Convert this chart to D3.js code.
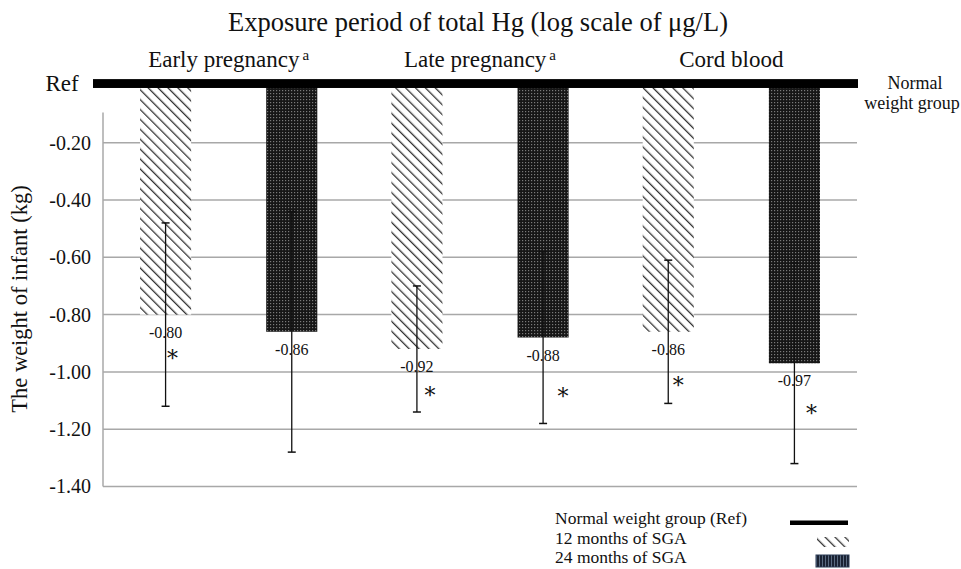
<!DOCTYPE html>
<html>
<head>
<meta charset="utf-8">
<script src="https://cdn.jsdelivr.net/npm/d3@7"></script>
<style>
  body { margin: 0; background: #fff; }
  svg text { font-family: "Liberation Serif", "Times New Roman", serif; fill: #111; }
</style>
</head>
<body>
<svg id="svg" width="961" height="569"></svg>
<script>
// data
var periods = ["Early pregnancy", "Late pregnancy", "Cord blood"]
var periodSup = ["a", "a", ""]
var series = ["12 months of SGA", "24 months of SGA"]
var values12 = [-0.80, -0.92, -0.86]
var values24 = [-0.86, -0.88, -0.97]
var err12 = [0.32, 0.22, 0.25]
var err24 = [0.42, 0.30, 0.35]
var signif12 = [true, true, true]
var signif24 = [false, true, true]
var yTicks = [-0.20, -0.40, -0.60, -0.80, -1.00, -1.20, -1.40]

// asterisk offsets (px from bar centre / label) - layout only
var starOffset = [[7, 21], [4, 0], [13, 24], [20, 36], [10, 31], [17, 28]]

var SERIF = "'Liberation Serif', 'Times New Roman', serif"
var svg = d3.select("#svg")

var x0 = d3.scaleBand()
    .domain(periods)
    .range([103, 857])
    .padding(0)

var x1 = d3.scaleBand()
    .domain(series)
    .range([0, x0.bandwidth()])
    .paddingInner(0.595)
    .paddingOuter(0.2935)

var y = d3.scaleLinear()
    .domain([0, -1.40])
    .range([85.4, 486.5])

function fmt(v) {
    // plain hyphen, as in the figure
    return (v < 0 ? "-" : "") + d3.format(".2f")(Math.abs(v))
}

// patterns
var defs = svg.append("defs")
var hatch = defs.append("pattern")
    .attr("id", "hatch")
    .attr("patternUnits", "userSpaceOnUse")
    .attr("width", 7).attr("height", 7)
    .attr("patternTransform", "rotate(-45)")
hatch.append("rect").attr("width", 7).attr("height", 7).attr("fill", "#fff")
hatch.append("line")
    .attr("x1", 0).attr("y1", 0).attr("x2", 0).attr("y2", 7)
    .attr("stroke", "#333").attr("stroke-width", 2.6)

var dots = defs.append("pattern")
    .attr("id", "dots")
    .attr("patternUnits", "userSpaceOnUse")
    .attr("width", 3).attr("height", 3)
dots.append("rect").attr("width", 3).attr("height", 3).attr("fill", "#161616")
dots.append("rect").attr("x", 0).attr("y", 0).attr("width", 1.2).attr("height", 1.2).attr("fill", "#7a7a7a")

var dotsLegend = defs.append("pattern")
    .attr("id", "dotsLegend")
    .attr("patternUnits", "userSpaceOnUse")
    .attr("width", 3).attr("height", 3)
dotsLegend.append("rect").attr("width", 3).attr("height", 3).attr("fill", "#1a2233")
dotsLegend.append("rect").attr("width", 1).attr("height", 3).attr("fill", "#5a6a80")

// gridlines
svg.append("g").selectAll("line")
    .data(yTicks)
    .enter().append("line")
    .attr("x1", 103).attr("x2", 857)
    .attr("y1", function (d) { return y(d) })
    .attr("y2", function (d) { return y(d) })
    .attr("stroke", "#a8a8a8").attr("stroke-width", 1.5)

// y axis
var yAxis = svg.append("g")
    .attr("transform", "translate(103,0)")
    .call(d3.axisLeft(y).tickValues(yTicks).tickSize(0).tickPadding(12).tickFormat(fmt))
yAxis.attr("font-family", SERIF).attr("font-size", 20)
yAxis.select(".domain").remove()
yAxis.selectAll("text").attr("fill", "#111").style("font-family", SERIF)
svg.append("line")
    .attr("x1", 103).attr("x2", 103)
    .attr("y1", y(-0.095)).attr("y2", y(-1.40))
    .attr("stroke", "#a8a8a8").attr("stroke-width", 1.5)

// bars
var rows = []
periods.forEach(function (p, i) {
    rows.push({ period: p, series: series[0], value: values12[i], err: err12[i], sig: signif12[i], fill: "url(#hatch)" })
    rows.push({ period: p, series: series[1], value: values24[i], err: err24[i], sig: signif24[i], fill: "url(#dots)" })
})
rows.forEach(function (d, i) {
    d.cx = x0(d.period) + x1(d.series) + x1.bandwidth() / 2
    d.star = starOffset[i]
})

svg.append("g").selectAll("rect")
    .data(rows)
    .enter().append("rect")
    .attr("x", function (d) { return x0(d.period) + x1(d.series) })
    .attr("y", y(0))
    .attr("width", x1.bandwidth())
    .attr("height", function (d) { return y(d.value) - y(0) })
    .attr("fill", function (d) { return d.fill })

// error bars
var eb = svg.append("g").selectAll("g")
    .data(rows)
    .enter().append("g")
eb.append("line")
    .attr("x1", function (d) { return d.cx }).attr("x2", function (d) { return d.cx })
    .attr("y1", function (d) { return y(d.value + d.err) })
    .attr("y2", function (d) { return y(d.value - d.err) })
    .attr("stroke", "#111").attr("stroke-width", 1.3)
eb.append("line")
    .attr("x1", function (d) { return d.cx - 4 }).attr("x2", function (d) { return d.cx + 4 })
    .attr("y1", function (d) { return y(d.value - d.err) })
    .attr("y2", function (d) { return y(d.value - d.err) })
    .attr("stroke", "#111").attr("stroke-width", 1.5)
eb.append("line")
    .attr("x1", function (d) { return d.cx - 4 }).attr("x2", function (d) { return d.cx + 4 })
    .attr("y1", function (d) { return y(d.value + d.err) })
    .attr("y2", function (d) { return y(d.value + d.err) })
    .attr("stroke", "#111").attr("stroke-width", 1.5)

// value labels
svg.append("g").selectAll("text")
    .data(rows)
    .enter().append("text")
    .attr("x", function (d) { return d.cx })
    .attr("y", function (d) { return y(d.value) + 23 })
    .attr("text-anchor", "middle")
    .style("font-family", SERIF)
    .attr("font-size", 16)
    .attr("fill", "#222")
    .text(function (d) { return fmt(d.value) })

// asterisks
svg.append("g").selectAll("text")
    .data(rows.filter(function (d) { return d.sig }))
    .enter().append("text")
    .attr("x", function (d) { return d.cx + d.star[0] })
    .attr("y", function (d) { return y(d.value) + 30 + d.star[1] })
    .attr("text-anchor", "middle")
    .style("font-family", "'DejaVu Serif', serif")
    .attr("font-size", 22)
    .attr("fill", "#333")
    .text("*")

// reference bar
svg.append("rect")
    .attr("x", 93).attr("width", 858 - 93)
    .attr("y", y(0.022)).attr("height", y(-0.009) - y(0.022))
    .attr("fill", "#000")
svg.append("text")
    .attr("x", 62).attr("y", 91)
    .attr("text-anchor", "middle")
    .attr("font-size", 23)
    .text("Ref")
svg.append("text")
    .attr("x", 915).attr("y", 89)
    .attr("text-anchor", "middle")
    .attr("font-size", 18)
    .text("Normal")
svg.append("text")
    .attr("x", 912).attr("y", 109)
    .attr("text-anchor", "middle")
    .attr("font-size", 18)
    .text("weight group")

// titles
svg.append("text")
    .attr("x", 478).attr("y", 31)
    .attr("text-anchor", "middle")
    .attr("font-size", 26.5)
    .text("Exposure period of total Hg (log scale of \u03bcg/L)")

var pl = svg.append("g").selectAll("text")
    .data(periods)
    .enter().append("text")
    .attr("x", function (d) { return x0(d) + x0.bandwidth() / 2 })
    .attr("y", 67)
    .attr("text-anchor", "middle")
    .attr("font-size", 23)
pl.append("tspan").text(function (d) { return d })
pl.append("tspan")
    .attr("dx", 3)
    .attr("dy", -7)
    .attr("font-size", 15)
    .text(function (d, i) { return periodSup[i] })

svg.append("text")
    .attr("transform", "translate(27,299) rotate(-90)")
    .attr("text-anchor", "middle")
    .attr("font-size", 22.5)
    .text("The weight of infant (kg)")

// legend
var legendLabels = ["Normal weight group (Ref)", series[0], series[1]]
var lg = svg.append("g")
lg.selectAll("text")
    .data(legendLabels)
    .enter().append("text")
    .attr("x", 555)
    .attr("y", function (d, i) { return 524 + i * 19.5 })
    .attr("font-size", 17.5)
    .text(function (d) { return d })
lg.append("rect").attr("x", 790).attr("y", 520.5).attr("width", 58).attr("height", 4.5).attr("fill", "#000")
lg.append("rect").attr("x", 817).attr("y", 537).attr("width", 32).attr("height", 10).attr("fill", "url(#hatch)")
lg.append("rect").attr("x", 816).attr("y", 555).attr("width", 33).attr("height", 12)
    .attr("fill", "url(#dotsLegend)").attr("stroke", "#2a3a55").attr("stroke-width", 1)
</script>
</body>
</html>
